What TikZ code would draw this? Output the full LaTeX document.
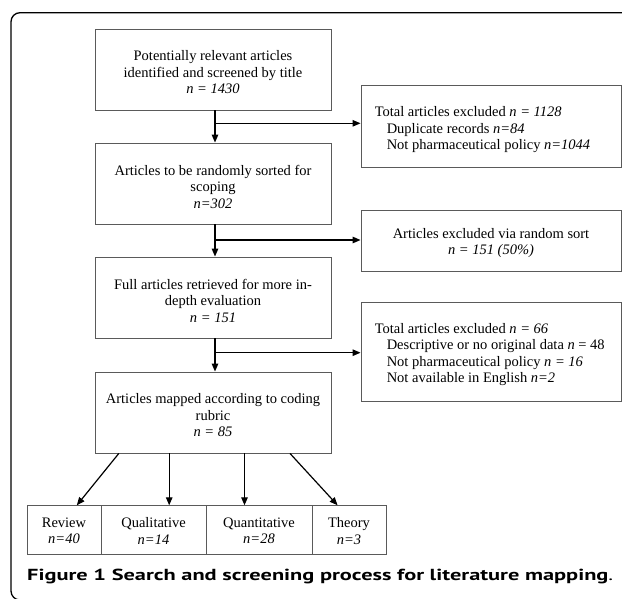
\documentclass[tikz,border=0pt]{standalone}
\usepackage{fontspec}
\setmainfont{Liberation Serif}
\newfontfamily\capfont{PT Sans}
\usetikzlibrary{arrows.meta}
\definecolor{boxgray}{RGB}{90,90,90}
\begin{document}
\begin{tikzpicture}[x=1pt,y=-1pt,
  box/.style={draw=boxgray, line width=0.9pt, rectangle, inner sep=0pt},
  mainbox/.style={box, minimum width=236pt, minimum height=81pt},
  sidebox/.style={box, minimum width=260pt},
  catbox/.style={box, minimum height=48.3pt},
  txt/.style={inner sep=0pt, align=center, font=\fontsize{14.5}{16.5}\selectfont},
  ltxt/.style={txt, align=left, anchor=west},
  arr/.style={line width=1.2pt, -{Triangle[length=8pt,width=6.5pt]}},
  frame/.style={line width=1.3pt, rounded corners=9pt}]
\useasboundingbox (0,0) rectangle (622,598);
\begin{scope}
  \clip (0,0) rectangle (622,598);
  \draw[frame] (11,12.7) rectangle (650,600);
\end{scope}
% main column
\node[mainbox] (b1) at (213,69.5) {};
\node[mainbox] (b2) at (213,183.5) {};
\node[mainbox] (b3) at (213,297.5) {};
\node[mainbox] (b4) at (213,412.5) {};
\node[txt] (b1t) at ([yshift=-3pt]b1.center) {Potentially relevant articles\\identified and screened by title\\\textit{n = 1430}};
\node[txt] (b2t) at ([yshift=-3pt]b2.center) {Articles to be randomly sorted for\\scoping\\\textit{n=302}};
\node[txt] (b3t) at ([yshift=-3pt]b3.center) {Full articles retrieved for more in-\\depth evaluation\\\textit{n = 151}};
\node[txt] (b4t) at ([yshift=-3pt]b4.center) {Articles mapped according to coding\\rubric\\\textit{n = 85}};
% side boxes
\node[sidebox, minimum height=81.6pt] (r1) at (491,126.5) {};
\node[sidebox, minimum height=61pt] (r2) at (491,241.2) {};
\node[sidebox, minimum height=99pt] (r3) at (491,352.2) {};
\node[ltxt] (r1t) at ([xshift=14pt,yshift=-3.5pt]r1.west) {Total articles excluded \textit{n = 1128}\\\hspace*{12pt}Duplicate records \textit{n=84}\\\hspace*{12pt}Not pharmaceutical policy \textit{n=1044}};
\node[txt] (r2t) at ([yshift=-2pt]r2.center) {Articles excluded via random sort\\\textit{n = 151 (50\%)}};
\node[ltxt] (r3t) at ([xshift=14pt,yshift=-2.5pt]r3.west) {Total articles excluded \textit{n = 66}\\\hspace*{12pt}Descriptive or no original data \textit{n} = 48\\\hspace*{12pt}Not pharmaceutical policy \textit{n = 16}\\\hspace*{12pt}Not available in English \textit{n=2}};
% category boxes
\node[catbox, minimum width=74pt] (rev) at (64,529.9) {};
\node[catbox, minimum width=105pt] (qual) at (153.5,529.9) {};
\node[catbox, minimum width=106pt] (quant) at (259,529.9) {};
\node[catbox, minimum width=74pt] (theo) at (349,529.9) {};
\node[txt] (revt) at ([yshift=-1pt]rev.center) {Review\\\textit{n=40}};
\node[txt] (qualt) at ([yshift=-1pt]qual.center) {Qualitative\\\textit{n=14}};
\node[txt] (quantt) at ([yshift=-1pt]quant.center) {Quantitative\\\textit{n=28}};
\node[txt] (theot) at ([yshift=-1pt]theo.center) {Theory\\\textit{n=3}};
% caption
\node[anchor=base west, inner sep=0pt, font=\capfont\fontsize{16}{18}\selectfont] (cap) at (27,580)
  {\resizebox{586pt}{\height}{\textbf{Figure 1 Search and screening process for literature mapping}.}};
% vertical arrows
\draw[arr] ([xshift=2pt]b1.south) -- ([xshift=2pt]b2.north);
\draw[arr] ([xshift=2pt]b2.south) -- ([xshift=2pt]b3.north);
\draw[arr] ([xshift=2pt]b3.south) -- ([xshift=2pt]b4.north);
% side branches
\coordinate (j1) at (215,123.3);
\coordinate (j2) at (215,240);
\coordinate (j3) at (215,352.7);
\draw[arr] (j1) -- (j1 -| r1.west);
\draw[arr] (j2) -- (j2 -| r2.west);
\draw[arr] (j3) -- (j3 -| r3.west);
% fan-out arrows
\draw[arr] ([xshift=-94.2pt]b4.south) -- ([xshift=12.8pt]rev.north);
\draw[arr] ([xshift=-43.8pt]b4.south) -- ([xshift=15.7pt]qual.north);
\draw[arr] ([xshift=31.5pt]b4.south) -- ([xshift=-14.5pt]quant.north);
\draw[arr] ([xshift=77pt]b4.south) -- ([xshift=-11.4pt]theo.north);
\end{tikzpicture}
\end{document}
